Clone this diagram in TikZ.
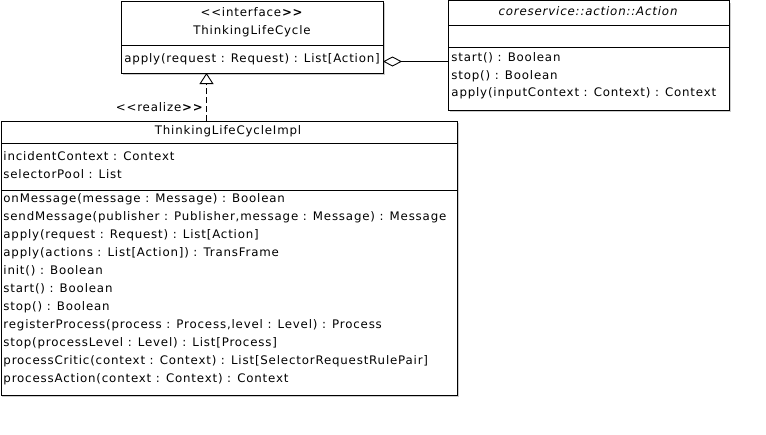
\documentclass[tikz,border=0pt]{standalone}
\usepackage{fontspec}
\newfontfamily\umlfont[LetterSpace=7]{DejaVu Sans}
\usetikzlibrary{arrows.meta}
\begin{document}
\begin{tikzpicture}[x=1pt,y=-1pt,line width=0.9pt,
  box/.style={draw, fill=white, anchor=north west, inner sep=0pt},
  shade/.style={draw=black!20, line width=1.6pt},
  txt/.style={anchor=west, inner sep=0pt, font=\umlfont\fontsize{11.8}{13}\selectfont},
  ttl/.style={inner sep=0pt, font=\umlfont\fontsize{11.8}{13}\selectfont}]
\useasboundingbox (0,0) rectangle (766,434);
% shadows
\draw[shade] (384.5,3) -- (384.5,74.5) -- (123,74.5);
\draw[shade] (730.5,3) -- (730.5,111.5) -- (450,111.5);
\draw[shade] (458.5,123) -- (458.5,396.5) -- (2,396.5);
% interface
\node[box, minimum width=262, minimum height=72] (iface) at (121,1){};
\node[ttl] (ifst) at (252,12){<{}<interface\textbf{>{}>}};
\node[ttl] (ifname) at (252,31){ThinkingLifeCycle};
\draw[](121,45) -- (383,45);
\node[txt] (ifop1) at (124,59){apply(request : Request) : List[Action]};
% action
\node[box, minimum width=281, minimum height=110] (act) at (448,0){};
\node[ttl] (actname) at (588,11){\itshape coreservice::action::Action};
\draw[](448,25) -- (729,25);
\draw[](448,47) -- (729,47);
\node[txt] (actop1) at (451,58){start() : Boolean};
\node[txt] (actop2) at (451,76){stop() : Boolean};
\node[txt] (actop3) at (451,93){apply(inputContext : Context) : Context};
% implementation
\node[box, minimum width=456, minimum height=274] (impl) at (1,121){};
\node[ttl] (implname) at (228,131){ThinkingLifeCycleImpl};
\draw[](1,143) -- (457,143);
\node[txt] (implat1) at (3,156){incidentContext : Context};
\node[txt] (implat2) at (3,174){selectorPool : List};
\draw[](1,190) -- (457,190);
\foreach \op [count=\i] in {onMessage(message : Message) : Boolean,
  sendMessage(publisher : Publisher{,}message : Message) : Message,
  apply(request : Request) : List[Action],
  apply(actions : List[Action]) : TransFrame,
  init() : Boolean, start() : Boolean, stop() : Boolean,
  registerProcess(process : Process{,}level : Level) : Process,
  stop(processLevel : Level) : List[Process],
  processCritic(context : Context) : List[SelectorRequestRulePair],
  processAction(context : Context) : Context}
  \node[txt] (implop\i) at (3,181+18*\i){\op};
% realization
\coordinate (rzfrom) at (206.5,121);
\coordinate (rzto) at (206.5,73);
\draw[dash pattern=on 6pt off 3pt, -{Triangle[open,length=11pt,width=14pt]}](rzfrom) -- (rzto);
\node[ttl, anchor=east] (rzlbl) at (204,107){<{}<realize\textbf{>{}>}};
% aggregation
\coordinate (agfrom) at (383,61.5);
\coordinate (agto) at (448,61.5);
\draw[{Diamond[open,length=19pt,width=10pt]}-](agfrom) -- (agto);
\end{tikzpicture}
\end{document}
